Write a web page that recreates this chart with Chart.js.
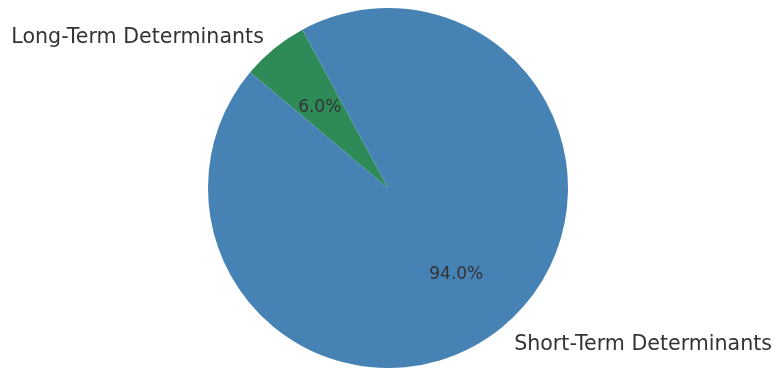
<!DOCTYPE html>
<html>
<head>
<meta charset="utf-8">
<style>
  html, body { margin: 0; padding: 0; background: #fff; }
  #wrap { width: 775px; height: 370px; position: relative; }
</style>
<script src="https://cdn.jsdelivr.net/npm/chart.js@4"></script>
</head>
<body>
<div id="wrap"><canvas id="pie"></canvas></div>
<script>
  // --- DATA ---
  const labels = ['Long-Term Determinants', 'Short-Term Determinants'];
  const shares = [6.0, 94.0];
  const colors = ['#2e8b57', '#4682b4'];

  const textColor = '#333333';
  const font = 'DejaVu Sans, sans-serif';

  // matplotlib-style labels: names at 1.1r, percentages at 0.6r
  const sliceLabels = {
    id: 'sliceLabels',
    afterDatasetsDraw(chart) {
      const { ctx } = chart;
      const arcs = chart.getDatasetMeta(0).data;
      const total = shares.reduce((a, b) => a + b, 0);
      ctx.save();
      ctx.fillStyle = textColor;
      ctx.textBaseline = 'middle';
      arcs.forEach((arc, i) => {
        const { x, y, startAngle, endAngle, outerRadius } = arc.getProps(['x', 'y', 'startAngle', 'endAngle', 'outerRadius'], true);
        const mid = (startAngle + endAngle) / 2;
        const cx = Math.cos(mid), cy = Math.sin(mid);

        ctx.font = `20.6px ${font}`;
        ctx.textAlign = cx < 0 ? 'right' : 'left';
        ctx.fillText(labels[i], x + cx * outerRadius * 1.1 + (cx < 0 ? 1 : 1), y + cy * outerRadius * 1.1 + 3);

        ctx.font = `17px ${font}`;
        ctx.textAlign = 'center';
        const pct = (shares[i] / total * 100).toFixed(1) + '%';
        ctx.fillText(pct, x + cx * outerRadius * 0.6, y + cy * outerRadius * 0.6 + 3);
      });
      ctx.restore();
    }
  };

  new Chart(document.getElementById('pie'), {
    type: 'pie',
    data: {
      labels,
      datasets: [{ data: shares, backgroundColor: colors, borderWidth: 0, hoverOffset: 0 }]
    },
    options: {
      responsive: true,
      maintainAspectRatio: false,
      animation: false,
      rotation: -50,
      layout: { padding: { top: 8, bottom: 2, left: 1, right: 0 } },
      plugins: { legend: { display: false }, tooltip: { enabled: false } }
    },
    plugins: [sliceLabels]
  });
</script>
</body>
</html>
